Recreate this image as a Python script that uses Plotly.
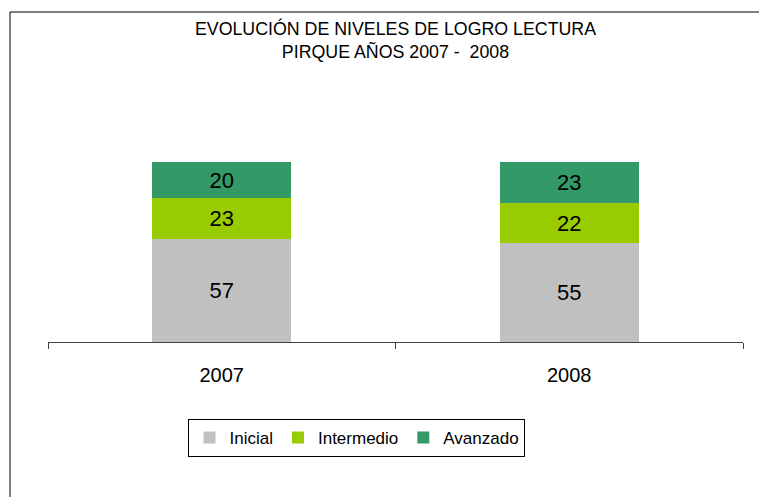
import plotly.graph_objects as go

years = ["2007", "2008"]
inicial = [57, 55]
intermedio = [23, 22]
avanzado = [20, 23]
series_names = ["Inicial", "Intermedio", "Avanzado"]
colors = ["#C0C0C0", "#99CC00", "#339966"]

# page body has an 8px default margin, so the figure is drawn 8px smaller
W, H = 759, 489

fig = go.Figure()
for name, vals, col in zip(series_names, [inicial, intermedio, avanzado], colors):
    fig.add_trace(go.Bar(
        x=years, y=vals, name=name, marker=dict(color=col, line=dict(width=0)),
        text=[str(v) for v in vals], textposition="inside", insidetextanchor="middle",
        textfont=dict(size=22, color="black", family="Liberation Sans, Arial"),
        textangle=0, width=0.4,
    ))

fig.update_layout(
    barmode="stack",
    width=W, height=H,
    margin=dict(l=40, r=24, t=154, b=155, autoexpand=False),
    paper_bgcolor="white", plot_bgcolor="white",
    font=dict(family="Liberation Sans, Arial", color="black"),
    title=dict(text="EVOLUCIÓN DE NIVELES DE LOGRO LECTURA<br>PIRQUE AÑOS 2007 -  2008",
               x=0.5, xref="paper", y=1 - 26.5 / H, yref="container", yanchor="middle",
               xanchor="center", font=dict(size=17.8, color="black")),
    showlegend=True,
    legend=dict(orientation="h", x=0.4446, xanchor="center", y=-0.533, yanchor="middle",
                bordercolor="black", borderwidth=1, font=dict(size=17),
                traceorder="normal", itemwidth=30),
    uniformtext=dict(minsize=8, mode="show"),
)
fig.update_xaxes(type="category", showline=True, linecolor="#404040", linewidth=1,
                 ticks="outside", tickson="boundaries", ticklen=6, tickcolor="#404040",
                 tickfont=dict(size=20), ticklabelstandoff=15,
                 range=[-0.5, 1.5], showgrid=False)
fig.update_yaxes(range=[0, 100], visible=False, showgrid=False)

# outer chart frame (left and top edges; the others fall outside the picture)
fx0, fx1 = (10 - 48) / 695, (800 - 48) / 695
fy0, fy1 = (342 - 520) / 180, (342 - 12) / 180
fig.add_shape(type="line", xref="paper", yref="paper", x0=fx0, x1=fx0, y0=fy0, y1=fy1,
              line=dict(color="black", width=1), layer="below")
fig.add_shape(type="line", xref="paper", yref="paper", x0=fx0, x1=fx1, y0=fy1, y1=fy1,
              line=dict(color="black", width=1), layer="below")

fig.write_html("out.html")
